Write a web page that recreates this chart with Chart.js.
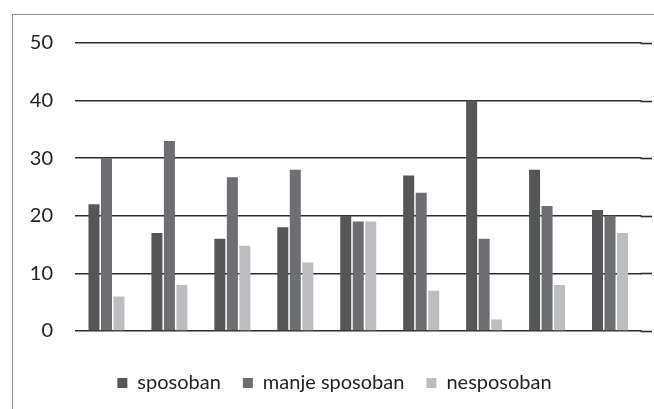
<!DOCTYPE html>
<html>
<head>
<meta charset="utf-8">
<script src="https://cdn.jsdelivr.net/npm/chart.js@4"></script>
<style>
  html, body { margin: 0; padding: 0; background: #ffffff; overflow: hidden; width: 654px; height: 409px; }
  #frame { position: absolute; left: 12px; top: 14px; width: 700px; height: 500px; border: 1.5px solid #8d8d8d; box-sizing: border-box; }
  #c { position: absolute; left: 0; top: 0; }
</style>
</head>
<body>
<div id="frame"></div>
<canvas id="c" width="654" height="409"></canvas>
<script>
// ---- data ----
const categories = ['1', '2', '3', '4', '5', '6', '7', '8', '9'];
const seriesNames = ['sposoban', 'manje sposoban', 'nesposoban'];
const sposoban = [22, 17, 16, 18, 20, 27, 40, 28, 21];
const manjeSposoban = [30, 33, 26.7, 28, 19, 24, 16, 21.7, 20];
const nesposoban = [6, 8, 14.8, 11.9, 19, 7, 2, 8, 17];
const yTicks = [0, 10, 20, 30, 40, 50];

const colors = ['#555658', '#6d6e71', '#bcbdc0'];
const FONT = 'Lato, "Open Sans", sans-serif';
const GRID = '#2e2e2e';

// extends horizontal grid lines a little past the plot area, as in the original
const gridExtend = {
  id: 'gridExtend',
  afterDraw(chart) {
    const y = chart.scales.y;
    const ctx = chart.ctx;
    const a = chart.chartArea;
    ctx.save();
    ctx.strokeStyle = GRID;
    ctx.lineWidth = 1.6;
    y.ticks.forEach(t => {
      const py = Math.round(y.getPixelForValue(t.value)) + 0.5;
      ctx.beginPath();
      ctx.moveTo(a.right - 1, py);
      ctx.lineTo(a.right + 10.5, py);
      ctx.stroke();
    });
    ctx.restore();
  }
};

new Chart(document.getElementById('c'), {
  type: 'bar',
  data: {
    labels: categories,
    datasets: [
      { label: seriesNames[0], data: sposoban, backgroundColor: colors[0], borderWidth: 0 },
      { label: seriesNames[1], data: manjeSposoban, backgroundColor: colors[1], borderWidth: 0 },
      { label: seriesNames[2], data: nesposoban, backgroundColor: colors[2], borderWidth: 0 }
    ]
  },
  options: {
    responsive: false,
    animation: false,
    devicePixelRatio: 1,
    categoryPercentage: 0.596,
    barPercentage: 0.88,
    layout: { padding: { left: 27.5, right: 12.5, top: 43, bottom: 6 } },
    scales: {
      x: {
        display: true,
        grid: { display: false },
        border: { display: false },
        ticks: { display: false },
        afterFit(s) { s.height = 20; }
      },
      y: {
        min: 0,
        max: 50,
        afterBuildTicks(s) { s.ticks = yTicks.map(v => ({ value: v })); },
        afterFit(s) { s.width = 47.5; },
        grid: { color: GRID, lineWidth: 1.6, drawTicks: false },
        border: { display: false },
        ticks: {
          padding: 22,
          color: '#231f20',
          font: { family: FONT, size: 20 }
        }
      }
    },
    plugins: {
      legend: {
        position: 'bottom',
        labels: {
          boxWidth: 10,
          boxHeight: 10,
          padding: 22,
          color: '#231f20',
          font: { family: FONT, size: 20 }
        }
      },
      tooltip: { enabled: false }
    }
  },
  plugins: [gridExtend]
});
</script>
</body>
</html>
